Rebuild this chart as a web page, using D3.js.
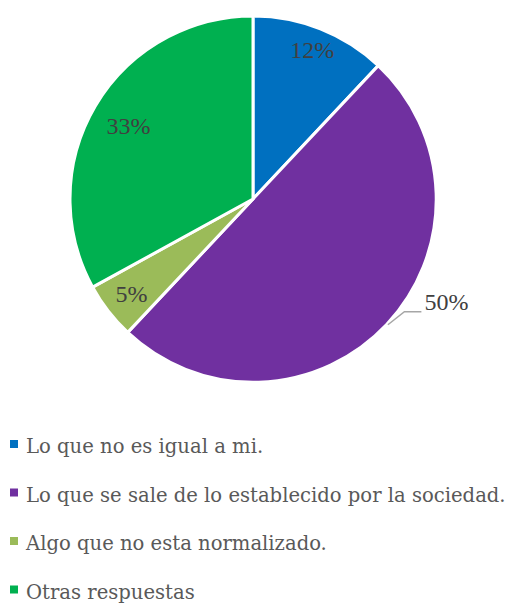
<!DOCTYPE html>
<html>
<head>
<meta charset="utf-8">
<script src="https://cdn.jsdelivr.net/npm/d3@7"></script>
<style>
  body { margin: 0; background: #fff; }
  text.label { font-family: "Liberation Serif"; }
  text.legend { font-family: "DejaVu Serif"; }
</style>
</head>
<body>
<div id="pie"></div>
<script>
// data
const categories = [
  "Lo que no es igual a mi.",
  "Lo que se sale de lo establecido por la sociedad.",
  "Algo que no esta normalizado.",
  "Otras respuestas"
];
const values = [12, 50, 5, 33];
const colors = ["#0070C0", "#7030A0", "#9BBB59", "#00B050"];

const width = 513, height = 604;
const cx = 253, cy = 199, radius = 183;
// how far out each inside label sits (fraction of radius)
const labelPos = [0.88, 0, 0.84, 0.79];

const data = categories.map((c, i) => ({category: c, value: values[i]}));

const color = d3.scaleOrdinal()
  .domain(categories)
  .range(colors);

const svg = d3.select("#pie")
  .append("svg")
  .attr("width", width)
  .attr("height", height)
  .attr("viewBox", [0, 0, width, height]);

const pie = d3.pie()
  .sort(null)
  .value(d => d.value);

const arc = d3.arc()
  .innerRadius(0)
  .outerRadius(radius);

const arcs = pie(data);

const g = svg.append("g")
  .attr("transform", `translate(${cx},${cy})`);

// slices
g.selectAll("path")
  .data(arcs)
  .join("path")
    .attr("d", arc)
    .style("fill", d => color(d.data.category))
    .style("stroke", "#fff")
    .style("stroke-width", 3)
    .style("stroke-linejoin", "round");

const outerArc = d3.arc().innerRadius(radius).outerRadius(radius);
const big = arcs[1];
const edge = outerArc.centroid(big);

// percent labels
g.selectAll("text.label")
  .data(arcs)
  .join("text")
    .attr("class", "label")
    .attr("transform", (d, i) => {
      if (i === 1) {
        return `translate(${edge[0] + 38},${edge[1] - 14})`;
      }
      const r = radius * labelPos[i];
      const a = (d.startAngle + d.endAngle) / 2;
      return `translate(${Math.sin(a) * r},${-Math.cos(a) * r})`;
    })
    .attr("text-anchor", (d, i) => i === 1 ? "start" : "middle")
    .attr("dy", (d, i) => i === 1 ? 0 : "0.35em")
    .style("font-size", "24px")
    .style("fill", "#404040")
    .text(d => d.data.value + "%");

// leader line for the 50% label
g.append("polyline")
  .attr("points", [
    [edge[0] + 1.5, edge[1] + 0.5],
    [edge[0] + 18, edge[1] - 12.5],
    [edge[0] + 35, edge[1] - 12.5]
  ])
  .style("fill", "none")
  .style("stroke", "#a6a6a6")
  .style("stroke-width", 1.5);

// legend
const legend = svg.append("g")
  .attr("transform", "translate(10,453)");

const item = legend.selectAll("g")
  .data(categories)
  .join("g")
    .attr("transform", (d, i) => `translate(0,${i * 48.5})`);

item.append("rect")
  .attr("x", 0)
  .attr("y", -13)
  .attr("width", 8)
  .attr("height", 8)
  .style("fill", d => color(d));

item.append("text")
  .attr("class", "legend")
  .attr("x", 16)
  .attr("y", 0)
  .style("font-size", "19.6px")
  .style("fill", "#595959")
  .text(d => d);
</script>
</body>
</html>
